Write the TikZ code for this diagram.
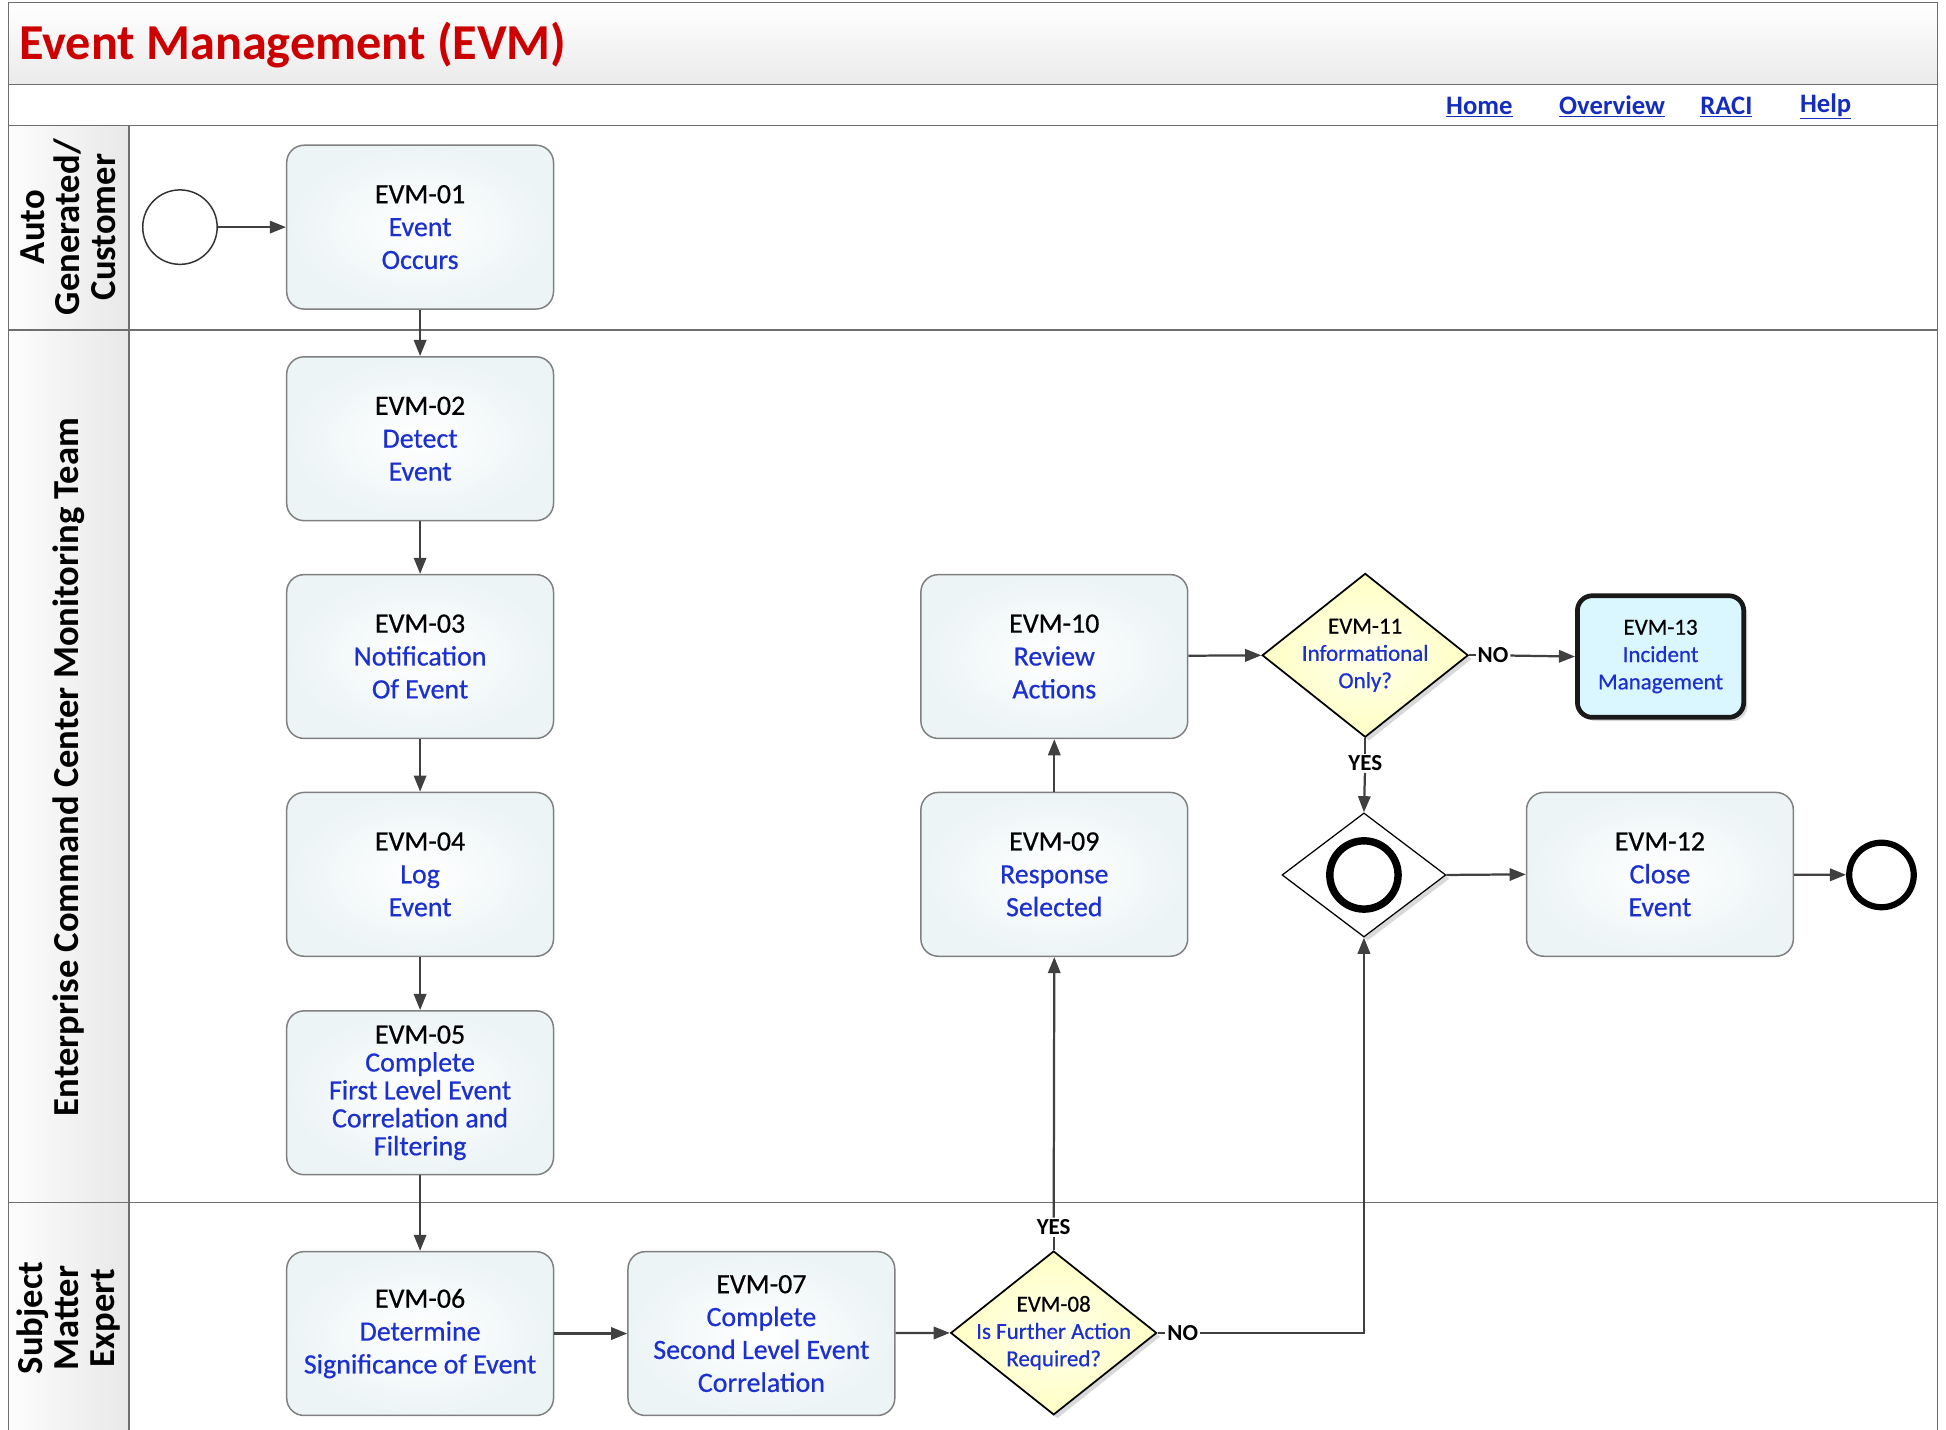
\documentclass[tikz,border=0pt]{standalone}
\usepackage{fontspec}
\setmainfont{Carlito}
\newfontfamily\semib{Carlito}[FakeBold=0.6]
\usetikzlibrary{arrows.meta,shapes.geometric,shadows}
\definecolor{evmblue}{RGB}{28,48,208}
\definecolor{linkblue}{RGB}{20,45,190}
\definecolor{titlered}{RGB}{204,0,0}
\definecolor{flowgrey}{RGB}{64,64,64}
\definecolor{framegrey}{RGB}{110,110,110}
\definecolor{boxborder}{RGB}{128,128,128}
\definecolor{boxfill}{RGB}{236,244,246}
\definecolor{decfill}{RGB}{255,255,196}
\definecolor{decin}{RGB}{255,255,236}
\definecolor{incfill}{RGB}{218,246,255}
\newcommand\evmid[1]{\textcolor{black}{#1}}
\begin{document}
\begin{tikzpicture}[x=1pt,y=-1pt,
  frame/.style={draw=framegrey, line width=1.3pt},
  stepbox/.style={draw=boxborder, line width=1.2pt, rounded corners=14pt,
    minimum width=215pt, minimum height=132pt, inner color=white, outer color=boxfill,
    align=center, text=evmblue, font=\semib\fontsize{22.5}{26.5}\selectfont},
  decbox/.style={diamond, draw=black, line width=1.4pt, minimum width=166pt,
    minimum height=132pt, inner sep=0pt, inner color=decin, outer color=decfill,
    drop shadow={shadow xshift=3pt, shadow yshift=-3pt, opacity=0.3}},
  dectext/.style={align=center, text=evmblue, font=\semib\fontsize{18.5}{22}\selectfont, inner sep=0pt},
  incbox/.style={draw=black!90, line width=3.8pt, rounded corners=12pt,
    minimum width=134pt, minimum height=98pt, fill=incfill, align=center, text=evmblue,
    font=\semib\fontsize{18.5}{22}\selectfont,
    drop shadow={shadow xshift=3pt, shadow yshift=-3pt, opacity=0.3}},
  gwbox/.style={diamond, draw=black, line width=1pt, fill=white, minimum width=132pt,
    minimum height=100pt, inner sep=0pt,
    drop shadow={shadow xshift=3pt, shadow yshift=-3pt, opacity=0.3}},
  flow/.style={draw=flowgrey, line width=1.8pt},
  arr/.style={flow, -{Triangle[length=13pt,width=10pt]}},
  yn/.style={font=\bfseries\fontsize{18.5}{20}\selectfont, fill=white, inner sep=1.5pt},
  lanelabel/.style={rotate=90, align=center, font=\bfseries\fontsize{29.5}{29}\selectfont},
  link/.style={text=linkblue, font=\bfseries\fontsize{21.5}{24}\selectfont}
]
\useasboundingbox (0,0) rectangle (1568,1152);
% frame and bars
\shade[top color=white, bottom color=black!8] (7,2) rectangle (1561,68);
\shade[left color=black!1, right color=black!9] (7,101) rectangle (104,1152);
\draw[frame] (7,1152) -- (7,2) -- (1561,2) -- (1561,1152);
\draw[frame] (7,68) -- (1561,68);
\draw[frame] (7,101) -- (1561,101);
\draw[frame] (7,266) -- (1561,266);
\draw[frame] (7,969) -- (1561,969);
\draw[frame] (104,101) -- (104,1152);
% title and links
\node[anchor=west, text=titlered, font=\bfseries\fontsize{40.5}{46}\selectfont] (title) at (12,36) {Event Management (EVM)};
\node[link] (home) at (1192,86) {\underline{Home}};
\node[link] (overview) at (1299,86) {\underline{Overview}};
\node[link] (raci) at (1391,86) {\underline{RACI}};
\node[link] (help) at (1471,86) {\underline{Help}};
% lane labels
\node[lanelabel] (lane1) at (55,183) {Auto\\Generated/\\Customer};
\node[lanelabel] (lane2) at (55,618) {Enterprise Command Center Monitoring Team};
\node[lanelabel] (lane3) at (55,1062) {Subject\\Matter\\Expert};
% events
\node[circle, draw=black!80, line width=1.2pt, minimum size=60pt, inner sep=0pt] (start) at (145,183) {};
\node[circle, draw=black, line width=5pt, minimum size=52pt, inner sep=0pt] (end) at (1516,705) {};
% steps
\node[stepbox] (e1) at (338.5,183) {\evmid{EVM-01}\\Event\\Occurs};
\node[stepbox] (e2) at (338.5,353.5) {\evmid{EVM-02}\\Detect\\Event};
\node[stepbox] (e3) at (338.5,529) {\evmid{EVM-03}\\Notification\\Of Event};
\node[stepbox] (e4) at (338.5,704.5) {\evmid{EVM-04}\\Log\\Event};
\node[stepbox, font=\semib\fontsize{22.5}{22.5}\selectfont] (e5) at (338.5,880.5) {\evmid{EVM-05}\\Complete\\First Level Event\\Correlation and\\Filtering};
\node[stepbox] (e6) at (338.5,1074.5) {\evmid{EVM-06}\\Determine\\Significance of Event};
\node[stepbox] (e7) at (613.5,1074.5) {\evmid{EVM-07}\\Complete\\Second Level Event\\Correlation};
\node[stepbox] (e9) at (849.5,704.5) {\evmid{EVM-09}\\Response\\Selected};
\node[stepbox] (e10) at (849.5,529) {\evmid{EVM-10}\\Review\\Actions};
\node[stepbox] (e12) at (1337.5,704.5) {\evmid{EVM-12}\\Close\\Event};
\node[incbox] (e13) at (1338,529) {\evmid{EVM-13}\\Incident\\Management};
% decisions
\node[decbox] (d8) at (849,1074) {};
\node[dectext] (d8t) at (d8) {\evmid{EVM-08}\\Is Further Action\\Required?};
\node[decbox] (d11) at (1100,528) {};
\node[dectext] (d11t) at (d11) {\evmid{EVM-11}\\Informational\\Only?};
% gateway
\node[gwbox] (gw) at (1099,705) {};
\node[circle, draw=black, line width=6pt, minimum size=55pt, inner sep=0pt] (gwc) at (gw) {};
% labels
\node[yn] (yes8) at (849,989) {YES};
\node[yn] (no8) at (953,1074) {NO};
\node[yn] (no11) at (1203,528) {NO};
\node[yn] (yes11) at (1100,615) {YES};
% connectors
\draw[arr] (start) -- (e1);
\draw[arr] (e1) -- (e2);
\draw[arr] (e2) -- (e3);
\draw[arr] (e3) -- (e4);
\draw[arr] (e4) -- (e5);
\draw[arr] (e5) -- (e6);
\draw[arr] (e6) -- (e7);
\draw[arr] (e7) -- (d8.west);
\draw[flow] (d8.north) -- (yes8);
\draw[arr] (yes8) -- (e9.south);
\draw[flow] (d8.east) -- (no8);
\draw[arr] (no8) -| (gw.south);
\draw[arr] (e9) -- (e10);
\draw[arr] (e10) -- (d11.west);
\draw[flow] (d11.east) -- (no11);
\draw[arr] (no11) -- (e13.west);
\draw[flow] (d11.south) -- (yes11);
\draw[arr] (yes11) -- (gw.north);
\draw[arr] (gw.east) -- (e12.west);
\draw[arr] (e12) -- (end);
\end{tikzpicture}
\end{document}
